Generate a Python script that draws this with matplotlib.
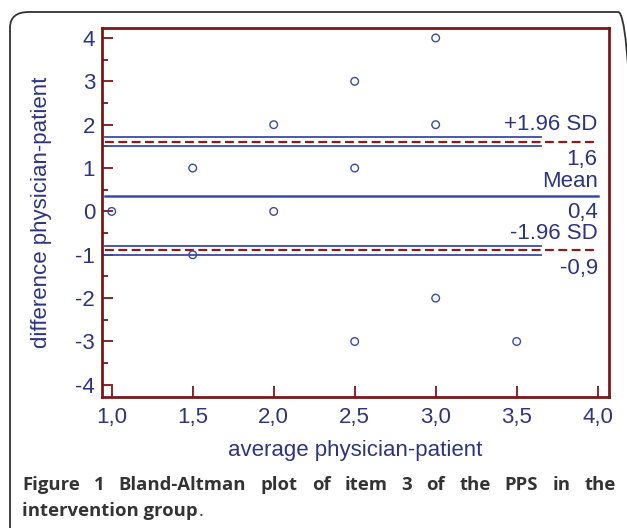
import matplotlib
matplotlib.use("Agg")
import matplotlib.pyplot as plt
from matplotlib.patches import FancyBboxPatch
from matplotlib.ticker import MultipleLocator, FuncFormatter

# Data
avg = [1.0, 1.5, 1.5, 2.0, 2.0, 2.5, 2.5, 2.5, 3.0, 3.0, 3.0, 3.5]
diff = [0, 1, -1, 2, 0, 3, 1, -3, 4, 2, -2, -3]
mean_diff = 0.35
upper_loa = 1.61
lower_loa = -0.9
upper_ci = [1.52, 1.72]
lower_ci = [-1.01, -0.8]
ci_end = 3.65
line_end = 4.0
x_ticks = [1.0, 1.5, 2.0, 2.5, 3.0, 3.5, 4.0]
y_ticks = [-4, -3, -2, -1, 0, 1, 2, 3, 4]

navy = "#2d3580"
blue = "#3a4aa8"
dred = "#7a1818"
rdash = "#8e1c1c"

plt.rcParams['font.family'] = ['Liberation Sans', 'DejaVu Sans']
plt.rcParams['axes.unicode_minus'] = False

fig = plt.figure(figsize=(6.27, 5.28), dpi=100)
ax = fig.add_axes([102/627, 1-397/528, (609-102)/627, (397-28)/528])

ax.set_xlim(0.94, 4.07)
ax.set_ylim(-4.28, 4.23)

ax.scatter(avg, diff, s=30, facecolors='none', edgecolors=blue, linewidths=1.0, zorder=3)

x0 = 0.96
ax.plot([x0, line_end], [mean_diff, mean_diff], color=blue, lw=1.8)
for v in upper_ci + lower_ci:
    ax.plot([x0, ci_end], [v, v], color=blue, lw=1.3)
for v in (upper_loa, lower_loa):
    ax.plot([x0, line_end], [v, v], color=rdash, lw=1.6, ls=(0, (4, 2)))

fs_lab = 16
tx = line_end
ax.text(tx, upper_loa + 0.15, "+1.96 SD", ha='right', va='bottom', color=navy, fontsize=fs_lab)
ax.text(tx, upper_loa - 0.17, "1,6", ha='right', va='top', color=navy, fontsize=fs_lab)
ax.text(tx, mean_diff + 0.1, "Mean", ha='right', va='bottom', color=navy, fontsize=fs_lab)
ax.text(tx, mean_diff - 0.13, "0,4", ha='right', va='top', color=navy, fontsize=fs_lab)
ax.text(tx, lower_loa + 0.15, "-1.96 SD", ha='right', va='bottom', color=navy, fontsize=fs_lab)
ax.text(tx, lower_loa - 0.17, "-0,9", ha='right', va='top', color=navy, fontsize=fs_lab)

ax.set_xticks(x_ticks)
ax.set_yticks(y_ticks)
ax.yaxis.set_minor_locator(MultipleLocator(0.5))
ax.xaxis.set_major_formatter(FuncFormatter(lambda v, p: f"{v:.1f}".replace('.', ',')))
ax.yaxis.set_major_formatter(FuncFormatter(lambda v, p: f"{int(round(v))}"))
ax.tick_params(axis='both', which='major', direction='in', length=8, width=1.3, color=dred,
               labelcolor=navy, labelsize=16, pad=5)
ax.tick_params(axis='y', which='minor', direction='in', length=4, width=1.3, color=dred)
ax.tick_params(axis='x', which='major', pad=7)
for s in ax.spines.values():
    s.set_color(dred)
    s.set_linewidth(2)

ax.set_xlabel("average physician-patient", color=navy, fontsize=16, labelpad=9)
ax.set_ylabel("difference physician-patient", color=navy, fontsize=16, labelpad=17)

# Outer rounded frame
frame = FancyBboxPatch((10/627, -0.1), 1.0, 1 - 12/528 + 0.1, boxstyle="round,pad=0,rounding_size=0.03",
                       transform=fig.transFigure, fill=False, edgecolor="#333333", lw=1.3, clip_on=False)
fig.patches.append(frame)

cap_font = ['Open Sans', 'DejaVu Sans']
cap_fs = 13.3
cap_color = "#333333"
line1 = "Figure 1 Bland-Altman plot of item 3 of the PPS in the".split(" ")
renderer = fig.canvas.get_renderer()
left_px, right_px = 22, 616
texts = []
widths = []
for w in line1:
    t = fig.text(0, 1-485/528, w, fontsize=cap_fs, fontweight='bold', color=cap_color,
                 family=cap_font, va='center')
    bb = t.get_window_extent(renderer)
    texts.append(t)
    widths.append(bb.width)
gap = (right_px - left_px - sum(widths)) / (len(line1) - 1)
x = left_px
for t, wd in zip(texts, widths):
    t.set_x(x / 627)
    x += wd + gap
t2 = fig.text(22/627, 1-511/528, "intervention group", fontsize=cap_fs, fontweight='bold', color=cap_color,
              family=cap_font, va='center')
bb2 = t2.get_window_extent(renderer)
fig.text((22 + bb2.width + 1)/627, 1-511/528, ".", fontsize=cap_fs, color=cap_color,
         family=cap_font, va='center')

fig.savefig("out.png", dpi=100)
